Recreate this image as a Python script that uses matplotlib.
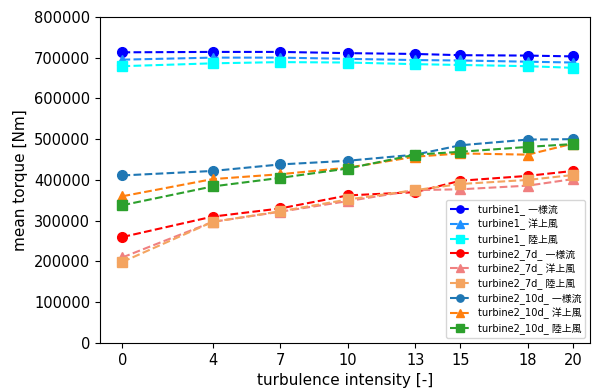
import matplotlib
matplotlib.use("Agg")
import matplotlib.pyplot as plt

plt.rcParams['font.family'] = ['DejaVu Sans', 'Noto Sans CJK JP']

x = [0, 4, 7, 10, 13, 15, 18, 20]

t1_uniform = [713000, 714000, 714000, 711000, 709000, 706000, 705000, 703000]
t1_offshore = [695000, 700000, 700000, 697000, 694000, 693000, 690000, 688000]
t1_onshore = [679000, 686000, 689000, 688000, 684000, 682000, 679000, 675000]

t27_uniform = [260000, 310000, 330000, 362000, 370000, 398000, 410000, 422000]
t27_offshore = [210000, 297000, 322000, 348000, 375000, 377000, 386000, 402000]
t27_onshore = [199000, 297000, 323000, 352000, 375000, 390000, 400000, 412000]

t210_uniform = [411000, 422000, 438000, 447000, 462000, 485000, 499000, 500000]
t210_offshore = [360000, 402000, 414000, 430000, 457000, 465000, 462000, 489000]
t210_onshore = [338000, 384000, 405000, 428000, 462000, 469000, 481000, 488000]

series = [
    (t1_uniform, 'turbine1_ 一様流', 'blue', 'o'),
    (t1_offshore, 'turbine1_ 洋上風', 'dodgerblue', '^'),
    (t1_onshore, 'turbine1_ 陸上風', 'cyan', 's'),
    (t27_uniform, 'turbine2_7d_ 一様流', 'red', 'o'),
    (t27_offshore, 'turbine2_7d_ 洋上風', 'lightcoral', '^'),
    (t27_onshore, 'turbine2_7d_ 陸上風', 'sandybrown', 's'),
    (t210_uniform, 'turbine2_10d_ 一様流', 'tab:blue', 'o'),
    (t210_offshore, 'turbine2_10d_ 洋上風', 'tab:orange', '^'),
    (t210_onshore, 'turbine2_10d_ 陸上風', 'tab:green', 's'),
]

fig = plt.figure(figsize=(5.95, 3.92), dpi=100)
ax = fig.add_axes([0.168, 0.125, 0.824, 0.832])
for vals, lab, col, mk in series:
    ax.plot(x, vals, linestyle='--', marker=mk, color=col, label=lab,
            markersize=7, linewidth=1.5)

ax.set_xticks(x)
ax.set_xlim(-1, 20.77)
ax.set_ylim(0, 800000)
ax.set_yticks(range(0, 800001, 100000))
ax.tick_params(labelsize=10.5)
ax.set_xlabel('turbulence intensity [-]', fontsize=11)
ax.set_ylabel('mean torque [Nm]', fontsize=11)
ax.legend(loc='lower right', fontsize=7.1, markerscale=0.75, labelspacing=0.38)

fig.savefig('out.png', dpi=100)
